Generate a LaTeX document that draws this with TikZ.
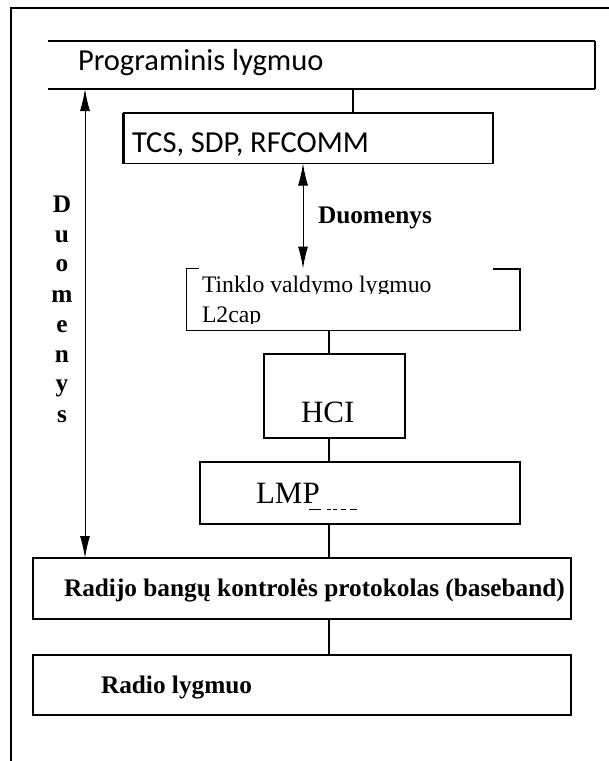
\documentclass[tikz,border=0pt]{standalone}
\usepackage{fontspec}
\setmainfont{Liberation Serif}
\newfontfamily\uisans{Carlito}
\usetikzlibrary{arrows.meta}

\begin{document}
\begin{tikzpicture}[x=1pt,y=-1pt,
  layer/.style={inner sep=0pt, outer sep=0pt, anchor=north west},
  frameline/.style={line width=1.3pt},
  heavy/.style={line width=2.4pt},
  link/.style={line width=1.6pt},
  flow/.style={line width=1pt, {Latex[length=22pt,width=10pt]}-{Latex[length=22pt,width=10pt]}},
  lbl/.style={anchor=base west, inner sep=0pt, outer sep=0pt},
  uilbl/.style={lbl, font=\uisans\fontsize{30.5}{36}\selectfont},
  plainlbl/.style={lbl, font=\fontsize{31}{37}\selectfont},
  boldlbl/.style={lbl, font=\bfseries\fontsize{25.3}{30}\selectfont},
]
\useasboundingbox (0,0) rectangle (609,761);

% page frame (top and left edges)
\draw[heavy, line width=1.8pt] (609,8) -- (11,8) -- (11,761);

% layer boxes
\node[layer, minimum width=547pt, minimum height=48pt] (prog) at (48,41) {};
\node[layer, minimum width=369.5pt, minimum height=50.5pt] (tcs) at (123.5,113) {};
\node[layer, minimum width=333pt, minimum height=62pt] (tinklo) at (186.5,268.5) {};
\node[layer, minimum width=141pt, minimum height=84pt] (hci) at (264,354) {};
\node[layer, minimum width=320pt, minimum height=62pt] (lmp) at (200,462) {};
\node[layer, minimum width=538pt, minimum height=61pt] (radijo) at (33,558) {};
\node[layer, minimum width=538pt, minimum height=60pt] (radio) at (33,655) {};

% Programinis lygmuo: open on the left
\draw[frameline] (prog.north west) -- (prog.north east);
\draw[frameline] (prog.south west) -- (prog.south east);
\draw[heavy, line width=2pt] (prog.north east) -- (prog.south east);

% TCS, SDP, RFCOMM
\draw[frameline] (tcs.north west) rectangle (tcs.south east);
\draw[heavy] (tcs.north west) -- (tcs.south west);
\draw[heavy] (tcs.north east) -- (tcs.south east);

% Tinklo valdymo lygmuo: top edge broken
\draw[frameline] ([xshift=12.5pt]tinklo.north west) -- (tinklo.north west)
  -- (tinklo.south west) -- (tinklo.south east);
\draw[heavy, line width=2pt] (tinklo.south east) -- (tinklo.north east)
  -- ([xshift=-27pt]tinklo.north east);

% HCI
\draw[frameline] (hci.north west) rectangle (hci.south east);
\draw[heavy] (hci.south west) -- (hci.north west) -- (hci.north east);

% LMP
\draw[frameline] (lmp.north west) rectangle (lmp.south east);

% baseband and radio
\draw[heavy] (radijo.north west) rectangle (radijo.south east);
\draw[heavy] (radio.north west) rectangle (radio.south east);

% connector columns
\coordinate (upperx) at (353,0);
\coordinate (midflow) at (303,0);
\coordinate (spine) at (329,0);
\coordinate (sideflow) at (85,0);

\draw[link] (prog.south -| upperx) -- (tcs.north -| upperx);
\draw[flow] (tcs.south -| midflow) -- (tinklo.north -| midflow);
\draw[link] (tinklo.south -| spine) -- (hci.north -| spine);
\draw[link] (hci.south -| spine) -- (lmp.north -| spine);
\draw[link] (lmp.south -| spine) -- (radijo.north -| spine);
\draw[link] (radijo.south -| spine) -- (radio.north -| spine);
\draw[flow] (prog.south -| sideflow) -- (radijo.north -| sideflow);

% labels
\node[uilbl] (progtext) at (78,70) {Programinis lygmuo};
\node[uilbl] (tcstext) at (132,152) {TCS, SDP, RFCOMM};
\node[boldlbl] (flowtext) at (318,223) {Duomenys};

\begin{scope}
  \clip (190,270) rectangle (515,293.5);
  \node[lbl, font=\fontsize{23.7}{28}\selectfont] (tinklotext) at (202,292) {Tinklo valdymo lygmuo};
\end{scope}
\begin{scope}
  \clip (190,300) rectangle (515,323.5);
  \node[lbl, font=\fontsize{23.7}{28}\selectfont] (l2captext) at (202,322) {L2cap};
\end{scope}

\node[plainlbl] (hcitext) at (301,422) {HCI};
\node[plainlbl] (lmptext) at (256,503) {LMP};
\draw[line width=1pt, dash pattern=on 12pt off 6pt on 4pt off 2pt on 4pt off 4pt on 5pt off 4pt on 7pt]
  (309,509.5) -- (362,509.5);

\node[boldlbl] (radijotext) at (64,596) {Radijo bangų kontrolės protokolas (baseband)};
\node[boldlbl] (radiotext) at (101,693) {Radio lygmuo};

% vertical side label
\foreach \ch/\yy [count=\i] in {D/212,u/242,o/271,m/302,e/332,n/362,y/391,s/422}
  \node[boldlbl, anchor=base] (side\i) at (62,\yy) {\ch};

\end{tikzpicture}
\end{document}
